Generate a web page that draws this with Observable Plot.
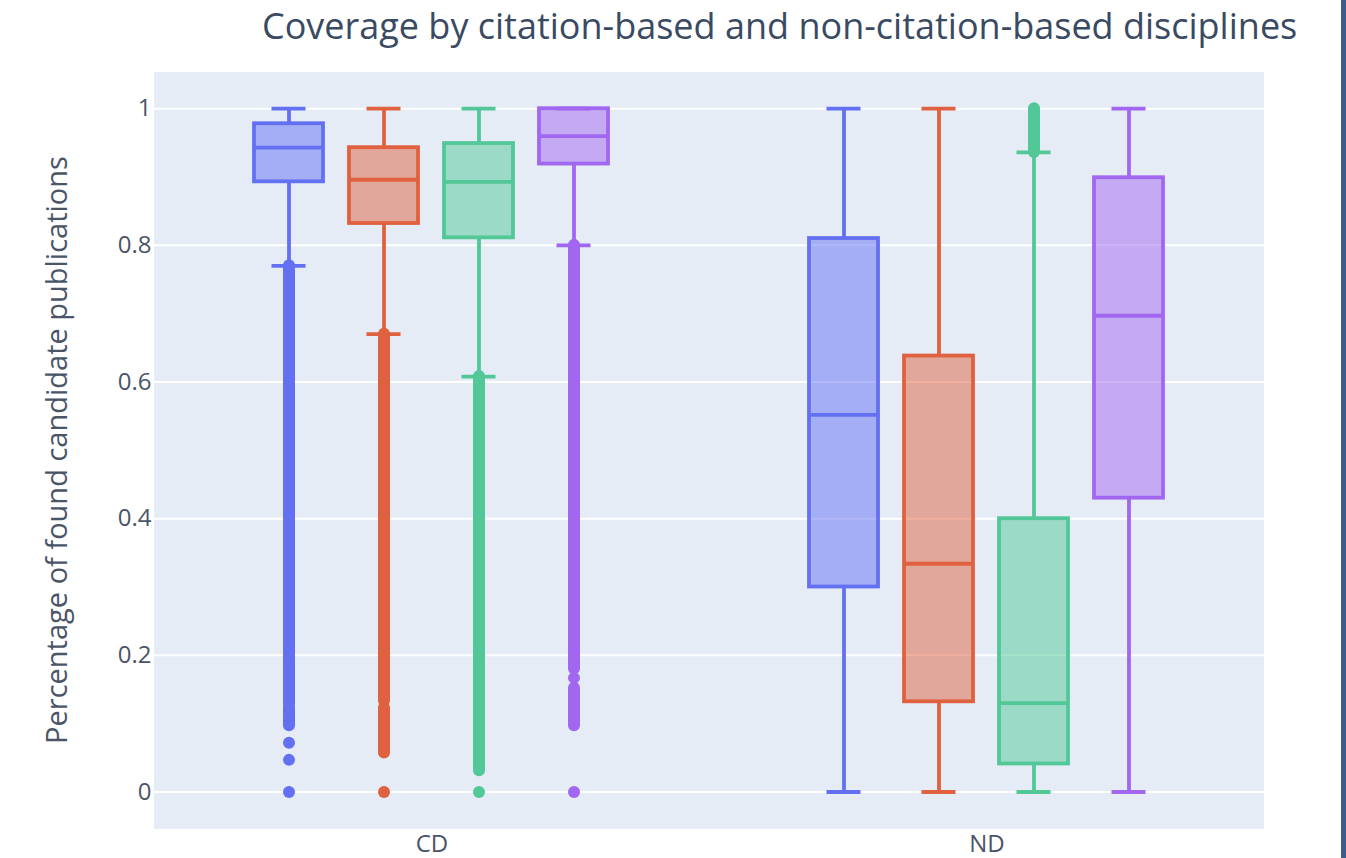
<!DOCTYPE html>
<html>
<head>
<meta charset="utf-8">
<script src="https://cdn.jsdelivr.net/npm/d3@7"></script>
<script src="https://cdn.jsdelivr.net/npm/@observablehq/plot@0.6"></script>
<style>
  html, body { margin: 0; padding: 0; background: #fff; overflow: hidden; }
  #wrap { position: relative; width: 1346px; height: 858px; font-family: "Open Sans", sans-serif; }
  #bg { position: absolute; left: 154px; top: 72px; width: 1110px; height: 757px; background: #E5ECF6; }
  #edge { position: absolute; left: 1341px; top: 0; width: 5px; height: 858px; background: #3c5d8c; }
  #title { position: absolute; left: 262px; top: 1px; font-size: 36px; line-height: 50px; color: #3a4a62; white-space: nowrap; }
  #ylab { position: absolute; left: 56px; top: 450px; transform: translate(-50%, -50%) rotate(-90deg);
          font-size: 29px; line-height: 36px; color: #4a5568; white-space: nowrap; }
  #chart { position: absolute; left: 0; top: 0; }
</style>
</head>
<body>
<div id="wrap">
  <div id="bg"></div>
  <div id="chart"></div>
  <div id="title">Coverage by citation-based and non-citation-based disciplines</div>
  <div id="ylab">Percentage of found candidate publications</div>
  <div id="edge"></div>
</div>
<script>
// ---- data ----
const groups = ["CD", "ND"];
const seriesNames = ["Series 1", "Series 2", "Series 3", "Series 4"];
const seriesColors = ["#6470F2", "#E0613F", "#52C797", "#A267F0"];
const yTicks = [0, 0.2, 0.4, 0.6, 0.8, 1];

// box statistics, order: CD s1..s4, ND s1..s4
const lowerWhisker = [0.770, 0.670, 0.608, 0.800, 0.000, 0.000, 0.000, 0.000];
const q1Values     = [0.893, 0.832, 0.811, 0.919, 0.300, 0.132, 0.041, 0.430];
const medianValues = [0.943, 0.896, 0.893, 0.960, 0.552, 0.334, 0.130, 0.697];
const q3Values     = [0.978, 0.943, 0.949, 1.000, 0.810, 0.638, 0.400, 0.899];
const upperWhisker = [1.000, 1.000, 1.000, 1.000, 1.000, 1.000, 0.936, 1.000];

// dense runs of outlier points (continuous columns of markers)
const runGroup  = ["CD", "CD", "CD", "CD", "CD", "CD", "CD", "ND"];
const runSeries = ["Series 1", "Series 1", "Series 2", "Series 2", "Series 3", "Series 4", "Series 4", "Series 3"];
const runLow    = [0.129, 0.097, 0.133, 0.057, 0.031, 0.180, 0.097, 0.936];
const runHigh   = [0.770, 0.124, 0.670, 0.123, 0.608, 0.800, 0.152, 1.000];

// isolated outlier points
const ptGroup  = ["CD", "CD", "CD", "CD", "CD", "CD", "CD"];
const ptSeries = ["Series 1", "Series 1", "Series 1", "Series 2", "Series 3", "Series 4", "Series 4"];
const ptValue  = [0.072, 0.047, 0.000, 0.000, 0.000, 0.000, 0.167];

// ---- build tables ----
const boxes = [];
groups.forEach((g, gi) => seriesNames.forEach((s, si) => {
  const i = gi * seriesNames.length + si;
  boxes.push({group: g, series: s, lo: lowerWhisker[i], q1: q1Values[i], med: medianValues[i], q3: q3Values[i], hi: upperWhisker[i]});
}));
const runs = runLow.map((v, i) => ({group: runGroup[i], series: runSeries[i], lo: v, hi: runHigh[i]}));
const pts = ptValue.map((v, i) => ({group: ptGroup[i], series: ptSeries[i], y: v}));

const lw = 3.8;
const chart = Plot.plot({
  width: 1346,
  height: 858,
  marginLeft: 154,
  marginRight: 82,
  marginTop: 72,
  marginBottom: 29,
  style: {fontFamily: "Open Sans, sans-serif", background: "transparent"},
  fx: {domain: groups, padding: 0, label: null},
  x: {domain: seriesNames, paddingInner: 0.27, paddingOuter: 1.035, axis: null},
  y: {domain: [-0.0549, 1.053], axis: null},
  color: {domain: seriesNames, range: seriesColors},
  marks: [
    Plot.gridY(yTicks, {stroke: "#ffffff", strokeOpacity: 1, strokeWidth: 2}),
    Plot.axisY(yTicks, {tickSize: 0, tickPadding: 3, fontSize: 24, color: "#4a5568", label: null, tickFormat: d => String(d)}),
    Plot.axisFx({anchor: "bottom", tickSize: 0, tickPadding: 5, fontSize: 24, color: "#4a5568", label: null}),
    // whiskers
    Plot.ruleX(boxes, {fx: "group", x: "series", y1: "q3", y2: "hi", stroke: "series", strokeWidth: lw}),
    Plot.ruleX(boxes, {fx: "group", x: "series", y1: "lo", y2: "q1", stroke: "series", strokeWidth: lw}),
    Plot.tickY(boxes, {fx: "group", x: "series", y: "hi", stroke: "series", strokeWidth: lw, insetLeft: 17.5, insetRight: 17.5}),
    Plot.tickY(boxes, {fx: "group", x: "series", y: "lo", stroke: "series", strokeWidth: lw, insetLeft: 17.5, insetRight: 17.5}),
    // boxes
    Plot.barY(boxes, {fx: "group", x: "series", y1: "q1", y2: "q3", fill: "series", fillOpacity: 0.5, stroke: "series", strokeWidth: lw}),
    Plot.tickY(boxes, {fx: "group", x: "series", y: "med", stroke: "series", strokeWidth: lw}),
    // outliers
    Plot.ruleX(runs, {fx: "group", x: "series", y1: "lo", y2: "hi", stroke: "series", strokeWidth: 12, strokeLinecap: "round"}),
    Plot.dot(pts, {fx: "group", x: "series", y: "y", fill: "series", r: 6})
  ]
});
document.getElementById("chart").appendChild(chart);
</script>
</body>
</html>
